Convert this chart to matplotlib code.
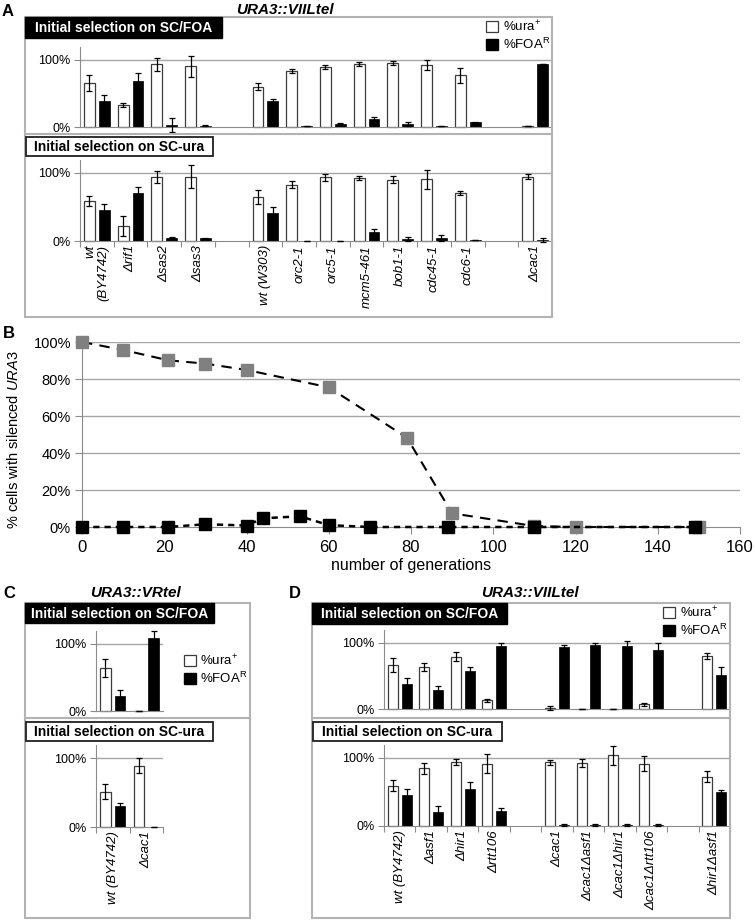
import numpy as np
import matplotlib
matplotlib.use('Agg')
import matplotlib.pyplot as plt
from matplotlib.patches import Rectangle, Patch
from matplotlib.lines import Line2D

plt.rcParams['font.family'] = ['Liberation Sans', 'DejaVu Sans']
plt.rcParams['mathtext.fontset'] = 'custom'
plt.rcParams['mathtext.rm'] = 'Liberation Sans'
plt.rcParams['mathtext.it'] = 'Liberation Sans:italic'
plt.rcParams['mathtext.bf'] = 'Liberation Sans:bold'

nan = np.nan

# ---- panel A data (URA3::VIILtel) ----
a_strains = ['wt\n(BY4742)', 'Δrif1', 'Δsas2', 'Δsas3', '', 'wt (W303)', 'orc2-1',
             'orc5-1', 'mcm5-461', 'bob1-1', 'cdc45-1', 'cdc6-1', '', 'Δcac1']
a_foa_ura = [65, 33, 93, 90, nan, 60, 83, 89, 93, 95, 92, 77, nan, 2]
a_foa_ura_err = [12, 3, 10, 16, nan, 5, 3, 3, 3, 3, 7, 11, nan, 0]
a_foa_foa = [39, 69, 3, 2, nan, 38, 1, 5, 12, 5, 1, 7, nan, 93]
a_foa_foa_err = [8, 12, 11, 0.5, nan, 4, 0, 1, 3, 3, 0, 1, nan, 0]
a_ura_ura = [59, 22, 94, 94.5, nan, 65, 83, 93.5, 92.5, 90, 91, 71, nan, 94.5]
a_ura_ura_err = [7, 14, 9.5, 17, nan, 10, 4.5, 5.5, 3, 5, 14, 3, nan, 3.5]
a_ura_foa = [45.5, 70, 5, 4, nan, 41, 0.5, 0.5, 12.5, 2.5, 4.5, 1.5, nan, 1.5]
a_ura_foa_err = [8.5, 10, 1, 1, nan, 9.5, 0, 0, 4.5, 3, 5, 0.5, nan, 3]

# ---- panel B data ----
gen_silenced = [0, 10, 21, 30, 40, 60, 79, 90, 110, 120, 150]
pct_silenced = [100, 95.7, 90.1, 88.3, 84.9, 75.5, 48.3, 7.4, 0.5, 0, 0]
gen_black = [0, 10, 21, 30, 40, 44, 53, 60, 70, 89, 110, 149]
pct_black = [0, 0, 0, 1.5, 0.8, 4.7, 5.8, 1, 0, 0, 0, 0]

# ---- panel C data (URA3::VRtel) ----
c_strains = ['wt (BY4742)', 'Δcac1']
c_foa_ura = [64, 0.5]
c_foa_ura_err = [14, 0]
c_foa_foa = [22.5, 109]
c_foa_foa_err = [8, 10]
c_ura_ura = [51, 89]
c_ura_ura_err = [11, 11]
c_ura_foa = [30, 0.3]
c_ura_foa_err = [5, 0]

# ---- panel D data (URA3::VIILtel) ----
d_strains = ['wt (BY4742)', 'Δasf1', 'Δhir1', 'Δrtt106', '', 'Δcac1', 'Δcac1Δasf1',
             'Δcac1Δhir1', 'Δcac1Δrtt106', '', 'Δhir1Δasf1']
d_foa_ura = [66, 63.6, 79, 13, nan, 1.5, 0.5, 0.3, 7, nan, 80]
d_foa_ura_err = [11, 6, 7, 2, nan, 2.5, 0, 0, 2.5, nan, 5]
d_foa_foa = [38, 29, 57.6, 95.5, nan, 94, 96.5, 95, 89, nan, 51.5]
d_foa_foa_err = [8.5, 6, 5, 4.5, nan, 3, 3.5, 8, 11, nan, 12]
d_ura_ura = [59, 85, 93.6, 91.7, nan, 93.6, 93, 104, 91.7, nan, 72.5]
d_ura_ura_err = [8, 8, 4.5, 14, nan, 3.5, 6, 14, 11, nan, 8.5]
d_ura_foa = [46, 20, 54, 22, nan, 1.5, 1.5, 1.5, 1.5, nan, 50.5]
d_ura_foa_err = [8, 9, 10, 4, nan, 1, 1, 1, 1, nan, 3]

W, H = 755, 921
GRID = '#a6a6a6'
AXC = '#8c8c8c'
BOX = '#b3b3b3'

fig = plt.figure(figsize=(W / 100, H / 100), dpi=100)


def px_axes(x0, y0, x1, y1):
    return fig.add_axes([x0 / W, 1 - y1 / H, (x1 - x0) / W, (y1 - y0) / H])


def fig_rect(x0, y0, x1, y1, **kw):
    fig.patches.append(Rectangle((x0 / W, 1 - y1 / H), (x1 - x0) / W, (y1 - y0) / H,
                                 transform=fig.transFigure, **kw))


def fig_line(x0, x1, y):
    fig.add_artist(Line2D([x0 / W, x1 / W], [1 - y / H, 1 - y / H], color=BOX, lw=1.5,
                          transform=fig.transFigure))


def ftext(x, y, s, **kw):
    fig.text(x / W, 1 - y / H, s, **kw)


def header(x0, y0, x1, y1, txt, dark):
    if dark:
        fig_rect(x0, y0, x1, y1, facecolor='black', edgecolor='black', lw=1)
        col = 'white'
    else:
        fig_rect(x0, y0, x1, y1, facecolor='white', edgecolor='#202020', lw=1.3)
        col = 'black'
    ftext((x0 + x1) / 2, (y0 + y1) / 2 + 0.5, txt, color=col, fontsize=10,
          fontweight='bold', ha='center', va='center')


def bar_panel(rect, strains, ura, ura_err, foa, foa_err, labels=False):
    ax = px_axes(*rect)
    n = len(strains)
    x = np.arange(n) + 0.5
    keep = np.array([s != '' for s in strains])
    ura = np.array(ura, float)[keep] / 100
    foa = np.array(foa, float)[keep] / 100
    ura_err = np.array(ura_err, float)[keep] / 100
    foa_err = np.array(foa_err, float)[keep] / 100
    xk = x[keep]
    ax.bar(xk - 0.22, ura, 0.32, color='white', edgecolor='#3c3c3c', linewidth=0.9, zorder=2)
    ax.bar(xk + 0.22, foa, 0.32, color='black', edgecolor='black', linewidth=0.5, zorder=2)
    ax.errorbar(xk - 0.22, ura, yerr=ura_err, fmt='none', ecolor='black', elinewidth=0.9,
                capsize=2.5, capthick=0.9, zorder=3, clip_on=False)
    ax.errorbar(xk + 0.22, foa, yerr=foa_err, fmt='none', ecolor='black', elinewidth=0.9,
                capsize=2.5, capthick=0.9, zorder=3, clip_on=False)
    ax.set_xlim(0, n)
    ax.set_ylim(0, 1.19)
    ax.axhline(1, color=GRID, lw=1, zorder=0)
    ax.set_yticks([0, 1], ['0%', '100%'], fontsize=9)
    ax.tick_params(axis='y', length=4, color=AXC, pad=3)
    for s in ['top', 'right']:
        ax.spines[s].set_visible(False)
    for s in ['left', 'bottom']:
        ax.spines[s].set_color(AXC)
    ax.patch.set_alpha(0)
    for b in ax.patches:
        b.set_clip_on(False)
    if labels:
        ax.set_xticks(np.arange(n + 1))
        ax.set_xticks(x, strains, minor=True, rotation=90, fontsize=9.5, style='italic')
        ax.tick_params(axis='x', which='major', length=4, color=AXC, labelbottom=False)
        ax.tick_params(axis='x', which='minor', length=0, pad=3)
        for t in ax.get_xticklabels(minor=True):
            t.set_multialignment('right')
    else:
        ax.set_xticks([])
    return ax


def legend(x, y, loc):
    handles = [Patch(facecolor='white', edgecolor='#3c3c3c', lw=0.9),
               Patch(facecolor='black', edgecolor='black')]
    fig.legend(handles, ['%ura$^{+}$', '%FOA$^{\\mathrm{R}}$'], loc=loc,
               bbox_to_anchor=(x / W, 1 - y / H), frameon=False, fontsize=9.5,
               handlelength=0.9, handleheight=0.9, handletextpad=0.35,
               labelspacing=0.2, borderaxespad=0, borderpad=0)


# ---------------- panel A ----------------
fig_rect(25, 17, 552, 317, facecolor='none', edgecolor=BOX, lw=1.5)
fig_line(25, 552, 134)
bar_panel((80, 47, 552, 127), a_strains, a_foa_ura, a_foa_ura_err, a_foa_foa, a_foa_foa_err)
bar_panel((80, 160, 552, 241), a_strains, a_ura_ura, a_ura_ura_err, a_ura_foa, a_ura_foa_err,
          labels=True)
header(25, 17, 222, 38, 'Initial selection on SC/FOA', True)
header(26, 137, 213, 156, 'Initial selection on SC-ura', False)
legend(550, 19, 'upper right')
ftext(285, 10, 'URA3::VIILtel', fontsize=11, fontweight='bold', style='italic',
      ha='center', va='center')
ftext(8, 12, 'A', fontsize=12, fontweight='bold', ha='center', va='center')

# ---------------- panel B ----------------
axb = px_axes(82, 342, 740, 527)
axb.set_xlim(0, 160)
axb.set_ylim(0, 1)
for yv in [0.2, 0.4, 0.6, 0.8, 1.0]:
    axb.axhline(yv, color=GRID, lw=1, zorder=0)
axb.plot(gen_silenced, np.array(pct_silenced) / 100, ls=(0, (5, 3.5)), color='black', lw=1.5,
         marker='s', ms=8, mfc='#808080', mec='#808080', clip_on=False, zorder=3)
axb.plot(gen_black, np.array(pct_black) / 100, ls=(0, (2.5, 2)), color='black', lw=1.8,
         marker='s', ms=8, mfc='black', mec='black', clip_on=False, zorder=4)
axb.set_yticks(np.linspace(0, 1, 6), ['0%', '20%', '40%', '60%', '80%', '100%'], fontsize=10.5)
axb.set_xticks(np.arange(0, 161, 20))
for t in axb.get_xticklabels():
    t.set_fontsize(12)
axb.tick_params(axis='x', length=5, color=AXC, pad=4)
axb.tick_params(axis='y', length=5, color=AXC, pad=3)
for s in ['top', 'right']:
    axb.spines[s].set_visible(False)
for s in ['left', 'bottom']:
    axb.spines[s].set_color(AXC)
axb.set_xlabel('number of generations', fontsize=11.5)
axb.xaxis.set_label_coords(0.5, -0.165)
axb.set_ylabel('% cells with silenced $\\mathit{URA3}$', fontsize=10.5)
axb.yaxis.set_label_coords(-0.092, 0.47)
ftext(9, 334, 'B', fontsize=12, fontweight='bold', ha='center', va='center')

# ---------------- panel C ----------------
fig_rect(25, 603, 250, 918, facecolor='none', edgecolor=BOX, lw=1.5)
fig_line(25, 250, 718)
bar_panel((96, 631, 163, 711), c_strains, c_foa_ura, c_foa_ura_err, c_foa_foa, c_foa_foa_err)
bar_panel((96, 745, 163, 827), c_strains, c_ura_ura, c_ura_ura_err, c_ura_foa, c_ura_foa_err,
          labels=True)
header(25, 603, 214, 623, 'Initial selection on SC/FOA', True)
header(26, 722, 213, 741, 'Initial selection on SC-ura', False)
legend(184, 653, 'upper left')
ftext(135, 593, 'URA3::VRtel', fontsize=11, fontweight='bold', style='italic',
      ha='center', va='center')
ftext(9, 594, 'C', fontsize=12, fontweight='bold', ha='center', va='center')

# ---------------- panel D ----------------
fig_rect(312, 603, 730, 918, facecolor='none', edgecolor=BOX, lw=1.5)
fig_line(312, 730, 718)
bar_panel((384, 630, 730, 709), d_strains, d_foa_ura, d_foa_ura_err, d_foa_foa, d_foa_foa_err)
bar_panel((384, 745, 730, 826), d_strains, d_ura_ura, d_ura_ura_err, d_ura_foa, d_ura_foa_err,
          labels=True)
header(312, 603, 507, 624, 'Initial selection on SC/FOA', True)
header(313, 722, 502, 741, 'Initial selection on SC-ura', False)
legend(727, 605, 'upper right')
ftext(530, 593, 'URA3::VIILtel', fontsize=11, fontweight='bold', style='italic',
      ha='center', va='center')
ftext(295, 593, 'D', fontsize=12, fontweight='bold', ha='center', va='center')

fig.savefig('out.png', dpi=100, facecolor='white')
